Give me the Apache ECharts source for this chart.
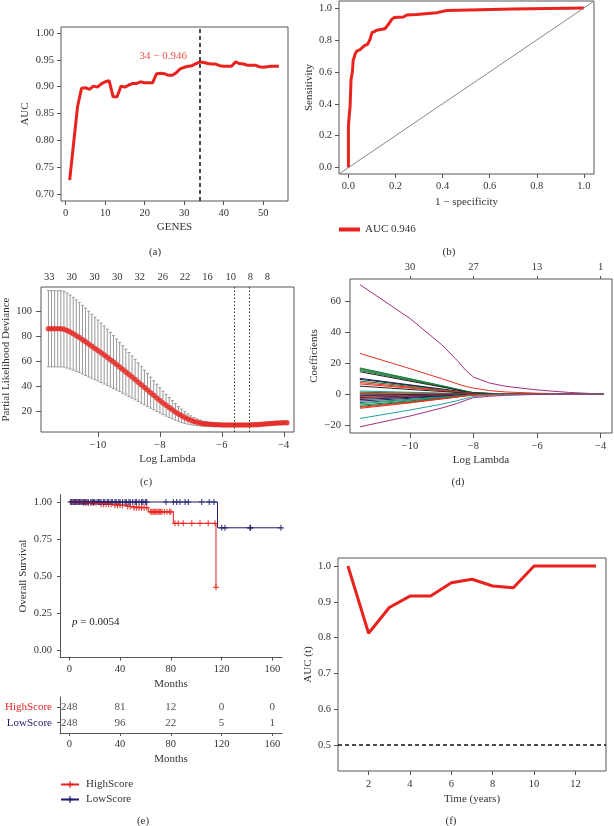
<!DOCTYPE html>
<html><head><meta charset="utf-8">
<script src="https://cdn.jsdelivr.net/npm/echarts@6/dist/echarts.min.js"></script>
<style>html,body{margin:0;padding:0;background:#fff}#c{width:614px;height:826px}</style>
</head><body><div id="c"></div>
<script>
// ---------- (a) AUC vs number of genes ----------
const genes = [1,2,3,4,5,6,7,8,9,10,11,12,13,14,15,16,17,18,19,20,21,22,23,24,25,26,27,28,29,30,31,32,33,34,35,36,37,38,39,40,41,42,43,44,45,46,47,48,49,50,51,52,53,54];
const geneAuc = [0.726,0.795,0.863,0.897,0.898,0.895,0.901,0.899,0.905,0.909,0.911,0.881,0.881,0.901,0.899,0.903,0.906,0.906,0.909,0.907,0.907,0.907,0.924,0.925,0.924,0.921,0.921,0.926,0.933,0.936,0.938,0.939,0.943,0.946,0.945,0.943,0.942,0.942,0.939,0.938,0.938,0.938,0.946,0.943,0.942,0.940,0.940,0.940,0.937,0.936,0.937,0.938,0.938,0.938];
const bestGene = 34;
const bestAuc = 0.946;
const aTicksX = [0,10,20,30,40,50];
const aTicksY = [0.70,0.75,0.80,0.85,0.90,0.95,1.00];

// ---------- (b) ROC ----------
const rocName = 'AUC 0.946';
const rocFpr = [0,0,0.003,0.007,0.011,0.017,0.02,0.028,0.035,0.05,0.057,0.067,0.075,0.082,0.092,0.1,0.11,0.12,0.142,0.155,0.163,0.17,0.178,0.184,0.194,0.234,0.248,0.29,0.298,0.376,0.383,0.418,0.426,0.7,0.7,1.0];
const rocTpr = [0,0.255,0.32,0.38,0.55,0.6,0.67,0.71,0.73,0.74,0.745,0.763,0.77,0.774,0.805,0.846,0.852,0.861,0.867,0.87,0.878,0.898,0.91,0.929,0.94,0.944,0.956,0.96,0.971,0.971,0.98,0.985,0.994,0.994,1.0,1.0];
const bTicks = [0,0.2,0.4,0.6,0.8,1.0];

// ---------- (c) cross-validation curve ----------
const cvLogLambda = [-11.6,-11.5,-11.4,-11.3,-11.2,-11.1,-11.0,-10.9,-10.8,-10.7,-10.6,-10.5,-10.4,-10.3,-10.2,-10.1,-10.0,-9.9,-9.8,-9.7,-9.6,-9.5,-9.4,-9.3,-9.2,-9.1,-9.0,-8.9,-8.8,-8.7,-8.6,-8.5,-8.4,-8.3,-8.2,-8.1,-8.0,-7.9,-7.8,-7.7,-7.6,-7.5,-7.4,-7.3,-7.2,-7.1,-7.0,-6.9,-6.8,-6.7,-6.6,-6.5,-6.4,-6.3,-6.2,-6.1,-6.0,-5.9,-5.8,-5.7,-5.6,-5.5,-5.4,-5.3,-5.2,-5.1,-5.0,-4.9,-4.8,-4.7,-4.6,-4.5,-4.4,-4.3,-4.2,-4.1,-4.0,-3.9];
const cvMean = [86,86,86,86,86,85.6,84.6,83.4,82,80.5,79,77.3,75.6,73.8,72,70.3,68.6,66.8,65,63.2,61.3,59.4,57.4,55.4,53.4,51.4,49.4,47.4,45.4,43.3,41.2,39.1,37,34.9,32.8,30.7,28.7,26.7,24.8,23,21.2,19.5,17.9,16.4,15,13.8,12.8,11.9,11.2,10.6,10.1,9.8,9.6,9.4,9.3,9.2,9.1,9.1,9.0,9.0,9.0,9.0,9.0,9.0,9.0,9.1,9.2,9.3,9.5,9.7,9.9,10.1,10.3,10.5,10.6,10.7,10.8,10.8];
const cvUpper = [116.5,116.5,116.5,116.5,116.5,115.9,114.6,113,111.1,109.1,107.1,104.8,102.5,100.1,97.6,95.3,93,90.6,88.2,85.7,83.1,80.5,77.8,75.1,72.4,69.7,67,64.3,61.6,58.7,55.9,53,50.2,47.3,44.4,41.6,38.8,36.1,33.5,31,28.5,26.1,23.8,21.7,19.7,17.9,16.4,15,13.9,12.9,12.1,11.6,11.2,10.9,10.7,10.5,10.4,10.3,10.2,10.2,10.2,10.2,10.2,10.2,10.2,10.3,10.4,10.5,10.8,11,11.2,11.4,11.6,11.8,11.9,12,12.1,12.1];
const cvLower = [55.5,55.5,55.5,55.5,55.5,55.3,54.6,53.8,52.9,51.9,50.9,49.8,48.7,47.5,46.4,45.3,44.2,43,41.8,40.7,39.5,38.3,37,35.7,34.4,33.1,31.8,30.5,29.2,27.9,26.5,25.2,23.8,22.5,21.2,19.8,18.6,17.3,16.1,15,13.9,12.9,12,11.1,10.3,9.7,9.2,8.8,8.5,8.3,8.1,8,8,7.9,7.9,7.9,7.8,7.9,7.8,7.8,7.8,7.8,7.8,7.8,7.8,7.9,8,8.1,8.2,8.4,8.6,8.8,9,9.2,9.3,9.4,9.5,9.5];
const cvTopPos = [-11.57,-10.85,-10.11,-9.38,-8.65,-7.91,-7.19,-6.46,-5.71,-5.08,-4.53];
const cvTopLabels = ['33','30','30','30','32','26','22','16','10','8','8'];
const cvLambdaLines = [-5.6,-5.13];
const cTicksX = [-10,-8,-6,-4];
const cTicksY = [20,40,60,80,100];

// ---------- (d) coefficient paths ----------
const coefLogLambda = [-11.58,-10,-9,-8.5,-8.25,-8,-7.5,-7,-6,-5,-3.9];
const coefPaths = [
  [71,49,32,21.5,15.5,11,7.2,5.1,2.7,1.1,0],
  [26.4,16.5,10,6.6,5,3.9,2.3,1.4,0.6,0.2,0],
  [17,10,5.5,3.2,2,1,0.5,0.2,0,0,0],
  [16.5,9.7,5.3,3,1.9,0.9,0.45,0.2,0,0,0],
  [16,9.4,5.1,2.9,1.8,0.8,0.4,0.1,0,0,0],
  [15.3,9,4.9,2.8,1.7,0.8,0.4,0.1,0,0,0],
  [14.5,8.4,4.6,2.6,1.6,0.7,0.35,0.1,0,0,0],
  [10.2,6,3.3,1.9,1.2,0.6,0.3,0.1,0,0,0],
  [9.6,5.6,3.1,1.7,1.1,0.5,0.25,0.1,0,0,0],
  [8.5,5,2.8,1.6,1,0.5,0.25,0.1,0,0,0],
  [7.5,4.4,2.4,1.4,0.9,0.4,0.2,0.1,0,0,0],
  [6.6,3.9,2.2,1.2,0.8,0.4,0.2,0,0,0,0],
  [5.2,3,1.7,1,0.6,0.3,0.1,0,0,0,0],
  [2,1.2,0.7,0.4,0.25,0.1,0,0,0,0,0],
  [1.2,0.7,0.4,0.2,0.15,0.1,0,0,0,0,0],
  [0.4,0.2,0.1,0.1,0,0,0,0,0,0,0],
  [-0.5,-0.3,-0.2,-0.1,-0.05,0,0,0,0,0,0],
  [-1,-0.6,-0.3,-0.2,-0.15,-0.1,0,0,0,0,0],
  [-1.5,-0.9,-0.5,-0.3,-0.2,-0.1,0,0,0,0,0],
  [-2.2,-1.3,-0.7,-0.4,-0.25,-0.1,0,0,0,0,0],
  [-2.8,-1.7,-0.9,-0.5,-0.35,-0.2,-0.1,0,0,0,0],
  [-3.5,-2.1,-1.2,-0.7,-0.45,-0.2,-0.1,0,0,0,0],
  [-4.5,-2.7,-1.5,-0.9,-0.6,-0.3,-0.1,0,0,0,0],
  [-5.5,-3.4,-1.9,-1.1,-0.7,-0.4,-0.2,0,0,0,0],
  [-6.2,-3.8,-2.1,-1.2,-0.8,-0.4,-0.2,0,0,0,0],
  [-7.2,-4.4,-2.5,-1.4,-0.9,-0.5,-0.25,-0.1,0,0,0],
  [-8,-4.9,-2.8,-1.6,-1,-0.5,-0.25,-0.1,0,0,0],
  [-8.6,-5.3,-3,-1.7,-1.1,-0.6,-0.3,-0.1,0,0,0],
  [-9.2,-5.7,-3.2,-1.9,-1.2,-0.6,-0.3,-0.1,0,0,0],
  [-15.8,-10.3,-6.5,-4.2,-2.8,-1.5,-0.8,-0.4,-0.1,0,0],
  [-21.2,-14.2,-9,-6,-4,-2.3,-1.4,-0.8,-0.2,0,0]
];
const coefColors = ['#a3307f','#e8321f','#1e7a3c','#1e7a3c','#2b8a4a','#1e7a3c','#222222','#1f1f80','#222222','#1e7a3c','#e8321f','#e8321f','#222222','#20a0a0','#1e7a3c','#e8321f','#222222','#1f1f80','#e8321f','#222222','#a3307f','#222222','#1f1f80','#1e7a3c','#20a0a0','#1e7a3c','#1e7a3c','#e8321f','#e8321f','#20a0a0','#a3307f'];
const coefTopPos = [-10,-8,-6,-4];
const coefTopLabels = ['30','27','13','1'];
const dTicksY = [-20,0,20,40,60];

// ---------- (e) Kaplan-Meier ----------
const highTimes = [0,10,23,35,44,49,62.3,82,115.6];
const highSurv = [1,0.993,0.985,0.978,0.97,0.962,0.934,0.856,0.424];
const highCensor = [2,4,6,8,11,13,15,17,19,21,25,27,29,31,33,36,38,40,42,46,48,51,53,55,57,59,61,64,65,66,67,68,69,70,71,72,73,75,77,79,80,83.3,85.9,89.8,96.5,103,109.5,114.8,115.6];
const lowTimes = [0,116.8,167.3];
const lowSurv = [1,0.826,0.826];
const lowCensor = [1,2,3,4,5,6,7,8,9,10,11,12,13,14,15,17,18,19,20,22,23,24,25,27,28,30,31,33,34,36,37,39,40,42,44,45,47,48,50,52,53,55,57,58,60,61,76.2,82,84.6,87.2,91.2,93.8,104.3,110.3,114,120.1,122.7,142.4,142.8,166.8];
const groupNames = ['HighScore','LowScore'];
const riskTimes = [0,40,80,120,160];
const highRisk = [248,81,12,0,0];
const lowRisk = [248,96,22,5,1];
const pText = '0.0054';
const eTicksX = [0,40,80,120,160];
const eTicksY = [0,0.25,0.5,0.75,1.0];

// ---------- (f) time-dependent AUC ----------
const years = [1,2,3,4,5,6,7,8,9,10,11,12,13];
const aucT = [1.0,0.812,0.884,0.916,0.916,0.953,0.963,0.944,0.939,1.0,1.0,1.0,1.0];
const fTicksX = [2,4,6,8,10,12];
const fTicksY = [0.5,0.6,0.7,0.8,0.9,1.0];

// ---------- styling ----------
const FONT = '"Liberation Serif", "DejaVu Serif", serif';
const TXT = '#333';
const AX = '#555';
const RED = '#e8231e';
const NAVY = '#1f1d6b';
const PLUS = 'path://M0,4 H10 V6 H0 Z M4,0 H6 V10 H4 Z';
const minus = v => String(v).replace('-', '\u2212');

function axis(o) {
  return {
    type: 'value', gridIndex: o.grid, min: o.min, max: o.max, position: o.position,
    splitLine: {show: false},
    axisLine: {show: !!o.line, onZero: false, lineStyle: {color: AX, width: 1}},
    axisTick: {show: o.tick !== false, inside: false, length: o.tickLen || 4, customValues: o.ticks, lineStyle: {color: AX}},
    axisLabel: {customValues: o.ticks, formatter: o.fmt || (v => String(v)), color: TXT, fontFamily: FONT,
      fontSize: 10.5, margin: o.margin || 7, hideOverlap: false, rich: o.rich},
    name: o.name || '', nameLocation: 'middle', nameGap: o.nameGap || 20, nameRotate: o.nameRotate || 0,
    nameTextStyle: {color: TXT, fontFamily: FONT, fontSize: 11}
  };
}
function survAt(times, surv, t) {
  let s = surv[0];
  for (let i = 0; i < times.length; i++) if (times[i] <= t) s = surv[i];
  return s;
}

const grids = [
  {left: 61, top: 27, width: 227, height: 174},
  {left: 339, top: 1, width: 255, height: 173},
  {left: 41, top: 287, width: 253, height: 145},
  {left: 350, top: 279, width: 262, height: 154},
  {left: 60, top: 494.6, width: 222, height: 163, noBox: true},
  {left: 60, top: 697, width: 222, height: 36, noBox: true},
  {left: 338, top: 558, width: 268, height: 213}
].map(g => ({left: g.left, top: g.top, width: g.width, height: g.height, show: !g.noBox,
  borderColor: AX, borderWidth: 1, backgroundColor: 'transparent', containLabel: false, outerBoundsMode: 'none'}));

const xAxes = [
  axis({grid: 0, min: -1.2, max: 56.3, ticks: aTicksX, name: 'GENES', nameGap: 21}),
  axis({grid: 1, min: -0.04, max: 1.043, ticks: bTicks, fmt: v => v.toFixed(1), name: '1 \u2212 specificity', nameGap: 23}),
  axis({grid: 2, min: -11.84, max: -3.67, ticks: cTicksX, fmt: minus, name: 'Log Lambda', nameGap: 22, margin: 8, tickLen: 5}),
  axis({grid: 2, min: -11.84, max: -3.67, ticks: cvTopPos, position: 'top', tick: false, margin: 4,
    fmt: v => cvTopLabels[cvTopPos.findIndex(p => Math.abs(p - v) < 1e-6)]}),
  axis({grid: 3, min: -11.89, max: -3.64, ticks: cTicksX, fmt: minus, name: 'Log Lambda', nameGap: 22, margin: 8, tickLen: 5}),
  axis({grid: 3, min: -11.89, max: -3.64, ticks: coefTopPos, position: 'top', margin: 6, tickLen: 3,
    fmt: v => coefTopLabels[coefTopPos.findIndex(p => Math.abs(p - v) < 1e-6)]}),
  axis({grid: 4, min: -7.3, max: 167.6, ticks: eTicksX, line: true, tickLen: 3, margin: 6, name: 'Months', nameGap: 21}),
  axis({grid: 5, min: -7.3, max: 167.6, ticks: eTicksX, line: true, tickLen: 3, margin: 6, name: 'Months', nameGap: 21}),
  axis({grid: 6, min: 0.52, max: 13.48, ticks: fTicksX, name: 'Time (years)', nameGap: 23, margin: 8})
];
const yAxes = [
  axis({grid: 0, min: 0.687, max: 1.011, ticks: aTicksY, fmt: v => v.toFixed(2), name: 'AUC', nameRotate: 90, nameGap: 30}),
  axis({grid: 1, min: -0.04, max: 1.044, ticks: bTicks, fmt: v => v.toFixed(1), name: 'Sensitivity', nameRotate: 90, nameGap: 22, margin: 7}),
  axis({grid: 2, min: 3.4, max: 119.4, ticks: cTicksY, name: 'Partial Likelihood Deviance', nameRotate: 90, nameGap: 29, margin: 9, tickLen: 5}),
  axis({grid: 3, min: -25.2, max: 74.6, ticks: dTicksY, fmt: minus, name: 'Coefficients', nameRotate: 90, nameGap: 30, margin: 9, tickLen: 5}),
  axis({grid: 4, min: -0.05, max: 1.05, ticks: eTicksY, fmt: v => v.toFixed(2), line: true, tickLen: 3, margin: 8, name: 'Overall Survival', nameRotate: 90, nameGap: 31}),
  axis({grid: 5, min: 0.33, max: 2.67, ticks: [1, 2], line: true, tickLen: 3, margin: 8,
    fmt: v => v === 2 ? '{h|' + groupNames[0] + '}' : '{l|' + groupNames[1] + '}',
    rich: {h: {color: RED, fontFamily: FONT, fontSize: 11}, l: {color: NAVY, fontFamily: FONT, fontSize: 11}}}),
  axis({grid: 6, min: 0.4275, max: 1.0223, ticks: fTicksY, fmt: v => v.toFixed(1), name: 'AUC (t)', nameRotate: 90, nameGap: 18})
];

const series = [];
// (a)
series.push({type: 'line', xAxisIndex: 0, yAxisIndex: 0, data: genes.map((g, i) => [g, geneAuc[i]]),
  symbol: 'none', lineStyle: {color: RED, width: 3}, silent: true,
  markLine: {silent: true, symbol: 'none', label: {show: false}, lineStyle: {color: '#111', type: [4, 3], width: 1.5},
    data: [{xAxis: bestGene}]}});
series.push({type: 'scatter', xAxisIndex: 0, yAxisIndex: 0, data: [[bestGene, bestAuc]], symbolSize: 0,
  label: {show: true, position: 'left', distance: 13, offset: [0, -6], formatter: bestGene + ' \u2212 ' + bestAuc.toFixed(3),
    color: RED, fontFamily: FONT, fontSize: 11}});
// (b)
series.push({type: 'line', name: rocName, xAxisIndex: 1, yAxisIndex: 1, data: rocFpr.map((f, i) => [f, rocTpr[i]]),
  symbol: 'none', lineStyle: {color: RED, width: 3}, itemStyle: {color: RED},
  markLine: {silent: true, symbol: 'none', label: {show: false}, lineStyle: {color: '#888', type: 'solid', width: 1},
    data: [[{coord: [-0.04, -0.04]}, {coord: [1.043, 1.043]}]]}, z: 3});
// (c)
series.push({type: 'custom', xAxisIndex: 2, yAxisIndex: 2,
  data: cvLogLambda.map((x, i) => [x, cvLower[i], cvUpper[i]]),
  encode: {x: 0, y: [1, 2]},
  renderItem: (params, api) => {
    const x = api.value(0);
    const p1 = api.coord([x, api.value(2)]);
    const p2 = api.coord([x, api.value(1)]);
    const st = {stroke: '#999', lineWidth: 1};
    return {type: 'group', children: [
      {type: 'line', shape: {x1: p1[0], y1: p1[1], x2: p2[0], y2: p2[1]}, style: st},
      {type: 'line', shape: {x1: p1[0] - 1.5, y1: p1[1], x2: p1[0] + 1.5, y2: p1[1]}, style: st},
      {type: 'line', shape: {x1: p2[0] - 1.5, y1: p2[1], x2: p2[0] + 1.5, y2: p2[1]}, style: st}
    ]};
  }});
series.push({type: 'scatter', xAxisIndex: 2, yAxisIndex: 2, data: cvLogLambda.map((x, i) => [x, cvMean[i]]),
  symbolSize: 5.5, itemStyle: {color: RED},
  markLine: {silent: true, symbol: 'none', label: {show: false}, lineStyle: {color: '#333', type: [1.5, 2], width: 1},
    data: cvLambdaLines.map(v => ({xAxis: v}))}});
// (d)
coefPaths.forEach((p, k) => {
  series.push({type: 'line', xAxisIndex: 4, yAxisIndex: 3, data: coefLogLambda.map((x, i) => [x, p[i]]),
    symbol: 'none', smooth: false, lineStyle: {color: coefColors[k], width: 1}, silent: true});
});
// (e)
series.push({type: 'line', name: groupNames[0], xAxisIndex: 6, yAxisIndex: 4, step: 'end',
  data: highTimes.map((t, i) => [t, highSurv[i]]), symbol: PLUS, symbolSize: 7, showSymbol: false,
  lineStyle: {color: RED, width: 1}, itemStyle: {color: RED}});
series.push({type: 'scatter', name: groupNames[0], xAxisIndex: 6, yAxisIndex: 4, symbol: PLUS, symbolSize: 6,
  data: highCensor.map(t => [t, survAt(highTimes, highSurv, t)]), itemStyle: {color: RED}});
series.push({type: 'line', name: groupNames[1], xAxisIndex: 6, yAxisIndex: 4, step: 'end',
  data: lowTimes.map((t, i) => [t, lowSurv[i]]), symbol: PLUS, symbolSize: 7, showSymbol: false,
  lineStyle: {color: NAVY, width: 1}, itemStyle: {color: NAVY}});
series.push({type: 'scatter', name: groupNames[1], xAxisIndex: 6, yAxisIndex: 4, symbol: PLUS, symbolSize: 6,
  data: lowCensor.map(t => [t, survAt(lowTimes, lowSurv, t)]), itemStyle: {color: NAVY}});
// risk table
[[highRisk, 2], [lowRisk, 1]].forEach(([arr, row]) => {
  series.push({type: 'scatter', xAxisIndex: 7, yAxisIndex: 5, symbolSize: 0,
    data: riskTimes.map((t, i) => [t, row, arr[i]]),
    label: {show: true, position: 'inside', formatter: p => String(p.value[2]), color: '#222', fontFamily: FONT, fontSize: 11}});
});
// (f)
series.push({type: 'line', xAxisIndex: 8, yAxisIndex: 6, data: years.map((y, i) => [y, aucT[i]]),
  symbol: 'none', lineStyle: {color: RED, width: 3},
  markLine: {silent: true, symbol: 'none', label: {show: false}, lineStyle: {color: '#111', type: [4, 3], width: 1.5},
    data: [{yAxis: 0.5}]}});

const lblStyle = (t, x, y) => ({type: 'text', x: x, y: y,
  style: {text: t, fill: TXT, font: '11px ' + FONT, textAlign: 'center', textVerticalAlign: 'middle', align: 'center', verticalAlign: 'middle'}});

const chart = echarts.init(document.getElementById('c'), null, {renderer: 'canvas'});
chart.setOption({
  animation: false,
  backgroundColor: '#fff',
  textStyle: {fontFamily: FONT},
  grid: grids,
  xAxis: xAxes,
  yAxis: yAxes,
  legend: [
    {data: [rocName], left: 339, top: 224, padding: 0, icon: 'rect', itemWidth: 21, itemHeight: 4,
      textStyle: {color: TXT, fontFamily: FONT, fontSize: 11}},
    {data: groupNames, left: 60, top: 779, padding: 0, orient: 'vertical', itemWidth: 18, itemHeight: 8, itemGap: 4,
      textStyle: {color: TXT, fontFamily: FONT, fontSize: 11, padding: [0, 0, 0, 2]}}
  ],
  graphic: [
    lblStyle('(a)', 155, 252), lblStyle('(b)', 449, 252), lblStyle('(c)', 146, 482), lblStyle('(d)', 458, 482),
    lblStyle('(e)', 143, 821), lblStyle('(f)', 451, 821),
    {type: 'text', x: 72, y: 622, style: {text: '{i|p} = ' + pText, fill: '#222', font: '11px ' + FONT,
      textVerticalAlign: 'middle', verticalAlign: 'middle',
      rich: {i: {fontStyle: 'italic', fontFamily: FONT, fontSize: 11, fill: '#222'}}}}
  ],
  series: series
});
</script></body></html>
